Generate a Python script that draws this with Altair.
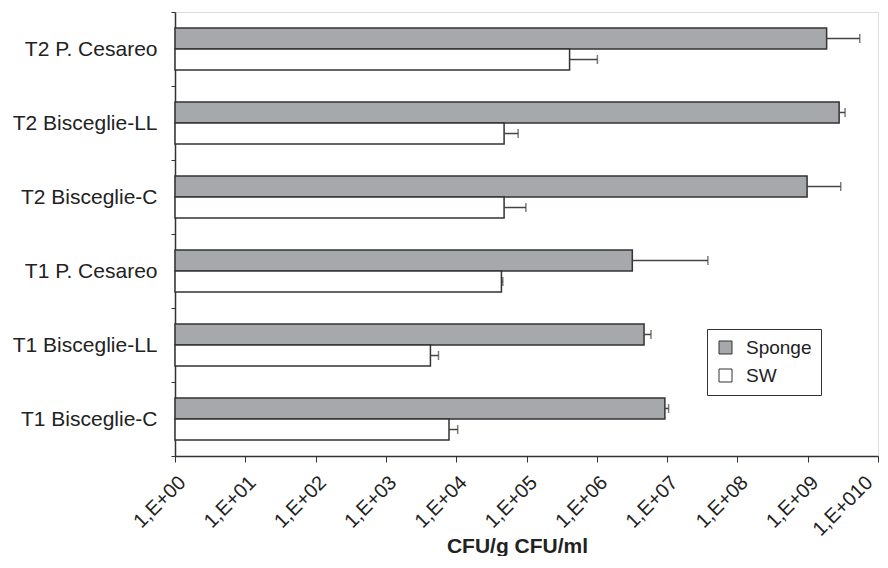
import altair as alt
import pandas as pd

categories = ["T2 P. Cesareo", "T2 Bisceglie-LL", "T2 Bisceglie-C",
              "T1 P. Cesareo", "T1 Bisceglie-LL", "T1 Bisceglie-C"]
series = ["Sponge", "SW"]
sponge = [1.86e9, 2.8e9, 9.8e8, 3.2e6, 4.7e6, 9.3e6]
sponge_err = [5.5e9, 3.4e9, 2.95e9, 3.8e7, 5.9e6, 1.05e7]
sw = [4.1e5, 4.8e4, 4.8e4, 4.4e4, 4.3e3, 7.9e3]
sw_err = [1.02e6, 7.6e4, 9.8e4, 4.6e4, 5.6e3, 1.05e4]
tick_values = [1, 10, 100, 1e3, 1e4, 1e5, 1e6, 1e7, 1e8, 1e9, 1e10]

rows = []
for i, c in enumerate(categories):
    rows.append({"cat": c, "series": "Sponge", "value": sponge[i], "err": sponge_err[i], "base": 1})
    rows.append({"cat": c, "series": "SW", "value": sw[i], "err": sw_err[i], "base": 1})
df = pd.DataFrame(rows)

FONT = "Liberation Sans"

y_enc = alt.Y("cat:N", sort=categories,
              scale=alt.Scale(paddingInner=0, paddingOuter=0),
              axis=alt.Axis(title=None, labelFontSize=21, labelFont=FONT, labelColor="#222",
                            tickBand="extent", tickSize=4, tickColor="#333",
                            domainColor="#333", domainWidth=1.5, labelPadding=14))
yoff = alt.YOffset("series:N", sort=series,
                   scale=alt.Scale(paddingInner=0, paddingOuter=0.76))
x_scale = alt.Scale(type="log", domain=[1, 1e10], nice=False)

bars = alt.Chart(df).mark_bar(stroke="#333", strokeWidth=1.5).encode(
    x=alt.X("value:Q", scale=x_scale,
            axis=alt.Axis(values=tick_values, grid=False, labelOverlap=False,
                          labelExpr="'1,E+0' + round(log(datum.value)/LN10)",
                          labelAngle=-45, labelFontSize=20, labelFont=FONT, labelColor="#222",
                          labelPadding=10,
                          labelOffset={"condition": {"test": "datum.value >= 1e10", "value": -16},
                                       "value": 0},
                          tickSize=6, tickColor="#333", domainColor="#333", domainWidth=1.5,
                          title="CFU/g  CFU/ml", titleFont=FONT, titleFontSize=21,
                          titleFontWeight="bold", titleColor="#222",
                          titleX=342, titleY=96, titleBaseline="alphabetic")),
    x2="base:Q",
    y=y_enc,
    yOffset=yoff,
    fill=alt.Fill("series:N", sort=series,
                  scale=alt.Scale(domain=series, range=["#a7a8ac", "#ffffff"]),
                  legend=alt.Legend(title=None, orient="none", legendX=532, legendY=317,
                                    labelFont=FONT, labelFontSize=19, labelColor="#222",
                                    symbolType="square", symbolSize=169,
                                    symbolStrokeColor="#333", symbolStrokeWidth=1,
                                    strokeColor="#333", fillColor="white",
                                    padding=9, rowPadding=8, labelOffset=11)),
)

rules = alt.Chart(df).mark_rule(color="#444", strokeWidth=1.5).encode(
    x=alt.X("value:Q", scale=x_scale), x2="err:Q", y=alt.Y("cat:N", sort=categories), yOffset=yoff)

caps = alt.Chart(df).mark_tick(color="#444", thickness=1.5, size=9).encode(
    x=alt.X("err:Q", scale=x_scale), y=alt.Y("cat:N", sort=categories), yOffset=yoff)

chart = alt.layer(bars, rules, caps).properties(
    width=703, height=444,
    autosize="none",
    padding={"left": 167, "top": 4, "right": 2, "bottom": 100},
).configure_view(stroke="#222", strokeWidth=1.5).configure(background="white")

chart.save("out.html", embed_options={"renderer": "svg", "actions": False})
